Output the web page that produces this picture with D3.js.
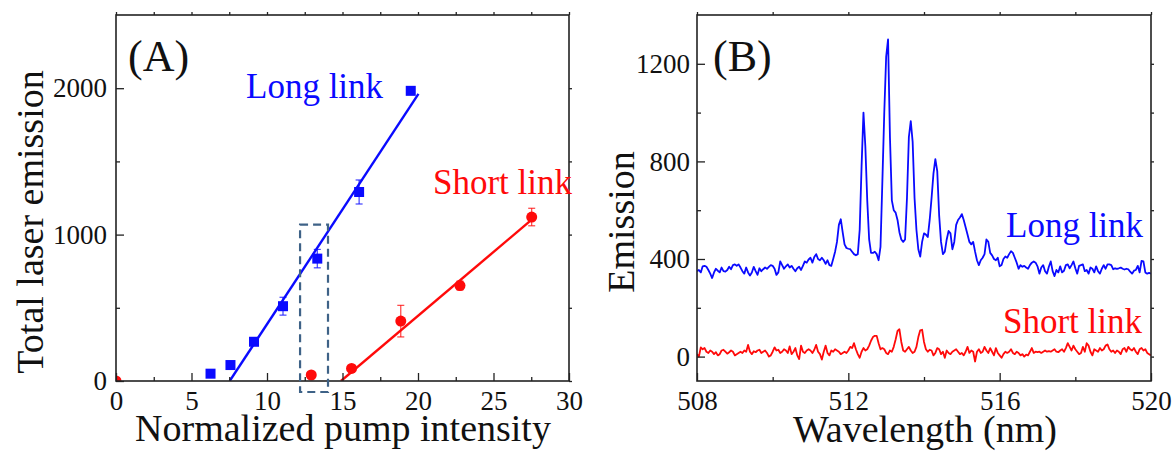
<!DOCTYPE html>
<html>
<head>
<meta charset="utf-8">
<script src="https://cdn.jsdelivr.net/npm/d3@7"></script>
<style>
  html, body { margin: 0; padding: 0; background: #fff; }
  svg { display: block; }
  text { font-family: "Liberation Serif", "Times New Roman", serif; }
</style>
</head>
<body>
<svg id="chart" width="1173" height="452"></svg>
<script>
// ---------- Panel A data ----------
const longX   = [6.26, 7.58, 9.14, 11.06, 13.33, 16.1, 19.52];
const longY   = [50, 109, 268, 511, 836, 1291, 1982];
const longErr = [10, 12, 15, 61, 63, 82, 12];
const shortX   = [0, 12.93, 15.6, 18.86, 22.78, 27.53];
const shortY   = [0, 41, 86, 409, 652, 1120];
const shortErr = [0, 10, 12, 108, 30, 60];
const longFitX  = [7.53, 20.03];
const longFitY  = [0, 1961];
const shortFitX = [14.9, 27.53];
const shortFitY = [0, 1102];
const boxX = [12.19, 14.04];
const boxY = [-75, 1068];
const ticksAX = [0, 5, 10, 15, 20, 25, 30];
const ticksAY = [0, 1000, 2000];

// ---------- Panel B data (sampled every 0.05 nm from 508 nm) ----------
const wlStart = 508, wlStep = 0.05;
const longSpectrum = [
  350,355,345,370,372,368,355,340,322,345,360,352,345,365,350,348,355,368,358,375,
  378,372,378,365,350,340,365,345,332,345,368,350,335,362,350,358,365,360,368,375,
  372,360,335,345,390,375,360,370,378,365,372,360,350,362,368,355,372,390,385,398,
  405,385,408,420,400,395,405,395,380,395,375,372,400,430,470,540,563,510,460,445,
  442,440,430,420,415,420,520,780,1000,860,640,480,425,425,430,420,395,450,720,1000,
  1230,1300,900,640,600,590,560,510,480,470,480,650,900,965,880,650,520,440,410,470,
  505,500,490,560,650,750,809,760,580,470,420,430,480,515,505,440,470,540,560,570,
  584,560,530,500,470,460,470,430,395,375,395,405,420,480,470,425,415,400,395,405,
  370,375,400,410,405,420,432,425,405,385,360,375,368,372,365,360,375,385,390,385,
  370,340,365,375,350,340,368,390,350,330,355,345,370,345,352,375,378,362,375,390,
  362,340,372,375,378,350,355,340,365,360,345,370,350,340,360,375,360,378,378,375,
  358,362,360,362,365,360,357,360,358,348,340,352,355,372,345,392,390,345,340,343,
  340
];
const shortSpectrum = [
  10,0,38,30,35,20,15,25,20,10,18,5,10,25,28,20,12,18,25,20,
  5,10,15,20,15,25,20,48,20,10,22,18,25,28,15,20,25,15,0,5,
  20,38,25,28,15,20,30,25,15,42,10,20,35,5,-10,45,20,15,25,30,
  25,15,28,48,20,10,-12,20,45,15,5,25,20,30,25,20,10,15,20,15,
  25,40,35,55,30,10,-5,20,35,25,30,45,65,80,85,85,55,30,35,30,
  15,10,25,20,40,70,105,112,60,25,20,30,40,25,15,20,40,80,108,110,
  60,30,20,28,25,5,15,35,30,10,20,-5,25,15,10,20,25,30,20,10,
  15,5,20,40,15,25,20,-20,20,30,15,20,40,25,15,35,20,5,35,15,
  5,-5,10,20,15,20,30,15,10,20,15,5,10,0,8,5,20,35,15,20,
  18,20,15,20,25,20,22,20,25,30,20,18,25,30,20,35,55,40,25,45,
  30,20,10,15,40,20,55,45,20,5,30,25,20,35,25,30,45,50,30,20,
  25,15,25,20,10,30,35,20,40,30,25,35,20,10,30,35,25,30,15,10,
  5
];
const ticksBX = [508, 512, 516, 520];
const ticksBY = [0, 400, 800, 1200];

// ---------- Styles ----------
const BLUE = "#0a0aff", RED = "#ff0a0a", AXIS = "#222";
const svg = d3.select("#chart");

function frameAndAxes(x, y, xt, xMinor, yt, yMinor, yPad) {
  const [x0, x1] = x.range(), [y0, y1] = y.range();
  const g = svg.append("g");
  const ax = g.append("g").attr("transform", `translate(0,${y0})`)
    .call(d3.axisBottom(x).tickValues(xt).tickSizeInner(-8).tickSizeOuter(0).tickPadding(10).tickFormat(d3.format("d")));
  ax.selectAll("text").attr("font-size", 27).attr("fill", "#111");
  const mx = g.append("g").attr("transform", `translate(0,${y0})`)
    .call(d3.axisBottom(x).tickValues(xMinor).tickSizeInner(-4).tickSizeOuter(0).tickFormat(""));
  const ay = g.append("g").attr("transform", `translate(${x0},0)`)
    .call(d3.axisLeft(y).tickValues(yt).tickSizeInner(-8).tickSizeOuter(0).tickPadding(yPad).tickFormat(d3.format("d")));
  ay.selectAll("text").attr("font-size", 27).attr("fill", "#111");
  const my = g.append("g").attr("transform", `translate(${x0},0)`)
    .call(d3.axisLeft(y).tickValues(yMinor).tickSizeInner(-4).tickSizeOuter(0).tickFormat(""));
  const tx = g.append("g").attr("transform", `translate(0,${y1})`)
    .call(d3.axisTop(x).tickValues(xt.concat(xMinor)).tickSizeInner(3).tickSizeOuter(0).tickFormat(""));
  const ry = g.append("g").attr("transform", `translate(${x1},0)`)
    .call(d3.axisRight(y).tickValues(yt.concat(yMinor)).tickSizeInner(3).tickSizeOuter(0).tickFormat(""));
  [mx, my, tx, ry].forEach(s => s.selectAll("text").remove());
  g.selectAll(".domain").remove();
  g.selectAll(".tick line").attr("stroke", AXIS).attr("stroke-width", 1.3);
  g.append("rect").attr("x", x0).attr("y", y1).attr("width", x1 - x0).attr("height", y0 - y1)
    .attr("fill", "none").attr("stroke", AXIS).attr("stroke-width", 1.6);
}

// ================= Panel A =================
const xA = d3.scaleLinear([0, 30], [116, 569]);
const yA = d3.scaleLinear([0, 2500], [381, 15]);

svg.append("clipPath").attr("id", "clipA").append("rect")
  .attr("x", 116).attr("y", 15).attr("width", 569 - 116).attr("height", 381 - 15);

const gA = svg.append("g").attr("clip-path", "url(#clipA)");
const fitLine = d3.line().x(d => xA(d[0])).y(d => yA(d[1]));
gA.append("path").attr("d", fitLine(d3.zip(longFitX, longFitY)))
  .attr("stroke", BLUE).attr("stroke-width", 2.4).attr("fill", "none");
gA.append("path").attr("d", fitLine(d3.zip(shortFitX, shortFitY)))
  .attr("stroke", RED).attr("stroke-width", 2.4).attr("fill", "none");

function errorBars(g, xs, ys, es, color) {
  xs.forEach((xv, i) => {
    if (!es[i]) return;
    const cx = xA(xv), t = yA(ys[i] + es[i]), b = yA(ys[i] - es[i]);
    g.append("line").attr("x1", cx).attr("x2", cx).attr("y1", t).attr("y2", b)
      .attr("stroke", color).attr("stroke-width", 1.1).attr("opacity", 0.85);
    [t, b].forEach(yy => g.append("line").attr("x1", cx - 3.5).attr("x2", cx + 3.5).attr("y1", yy).attr("y2", yy)
      .attr("stroke", color).attr("stroke-width", 1.1).attr("opacity", 0.85));
  });
}
errorBars(gA, longX, longY, longErr, BLUE);
errorBars(gA, shortX, shortY, shortErr, RED);

gA.selectAll("rect.long").data(d3.zip(longX, longY)).join("rect").attr("class", "long")
  .attr("x", d => xA(d[0]) - 5).attr("y", d => yA(d[1]) - 5).attr("width", 10).attr("height", 10)
  .attr("fill", BLUE);
gA.selectAll("circle.short").data(d3.zip(shortX, shortY)).join("circle").attr("class", "short")
  .attr("cx", d => xA(d[0])).attr("cy", d => yA(d[1])).attr("r", 5.5).attr("fill", RED);

frameAndAxes(xA, yA, ticksAX, [2.5, 7.5, 12.5, 17.5, 22.5, 27.5], ticksAY, [500, 1500], 9);

svg.append("rect")
  .attr("x", xA(boxX[0])).attr("y", yA(boxY[1]))
  .attr("width", xA(boxX[1]) - xA(boxX[0])).attr("height", yA(boxY[0]) - yA(boxY[1]))
  .attr("fill", "none").attr("stroke", "#3e6287").attr("stroke-width", 2.2)
  .attr("stroke-dasharray", "8,5");

svg.append("text").attr("x", 128).attr("y", 71).attr("font-size", 44).attr("fill", "#111").text("(A)");
svg.append("text").attr("x", 246).attr("y", 98).attr("font-size", 35).attr("fill", BLUE).text("Long link");
svg.append("text").attr("x", 433).attr("y", 194).attr("font-size", 35).attr("fill", RED).text("Short link");
svg.append("text").attr("transform", "translate(43,222) rotate(-90)").attr("text-anchor", "middle")
  .attr("font-size", 38).attr("fill", "#111").text("Total laser emission");
svg.append("text").attr("x", 343).attr("y", 441).attr("text-anchor", "middle")
  .attr("font-size", 38).attr("fill", "#111").text("Normalized pump intensity");

// ================= Panel B =================
const xB = d3.scaleLinear([508, 520], [697, 1151]);
const yB = d3.scaleLinear([-100, 1400], [381, 15]);

svg.append("clipPath").attr("id", "clipB").append("rect")
  .attr("x", 697).attr("y", 15).attr("width", 1151 - 697).attr("height", 381 - 15);
const gB = svg.append("g").attr("clip-path", "url(#clipB)");
const specLine = d3.line().x((d, i) => xB(wlStart + i * wlStep)).y(d => yB(d));
gB.append("path").attr("d", specLine(longSpectrum)).attr("stroke", BLUE).attr("stroke-width", 1.8)
  .attr("fill", "none").attr("stroke-linejoin", "round");
gB.append("path").attr("d", specLine(shortSpectrum)).attr("stroke", RED).attr("stroke-width", 1.8)
  .attr("fill", "none").attr("stroke-linejoin", "round");

frameAndAxes(xB, yB, ticksBX, [510, 514, 518], ticksBY, [200, 600, 1000], 7);

svg.append("text").attr("x", 713).attr("y", 71).attr("font-size", 44).attr("fill", "#111").text("(B)");
svg.append("text").attr("x", 1006).attr("y", 237).attr("font-size", 35).attr("fill", BLUE).text("Long link");
svg.append("text").attr("x", 1003).attr("y", 333).attr("font-size", 35).attr("fill", RED).text("Short link");
svg.append("text").attr("transform", "translate(634,222) rotate(-90)").attr("text-anchor", "middle")
  .attr("font-size", 38).attr("fill", "#111").text("Emission");
svg.append("text").attr("x", 925).attr("y", 442).attr("text-anchor", "middle")
  .attr("font-size", 38).attr("fill", "#111").text("Wavelength (nm)");
</script>
</body>
</html>
